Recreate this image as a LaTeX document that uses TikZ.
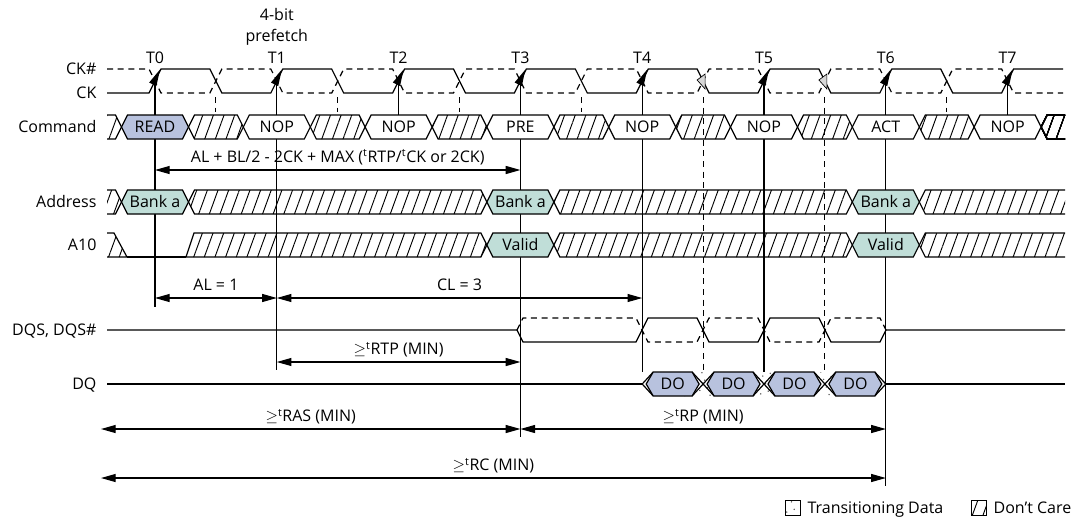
\documentclass[tikz,border=0pt]{standalone}
\usepackage{fontspec}
\setmainfont{Open Sans}
\usepackage{tikz}
\usetikzlibrary{arrows.meta, patterns.meta, calc}

\definecolor{readblue}{RGB}{184, 194, 222}
\definecolor{bankgreen}{RGB}{192, 222, 216}
\definecolor{edgegray}{RGB}{215, 215, 215}

\tikzstyle{siglabel} = [anchor=east, inner sep=0pt, font=\fontsize{12}{14}\selectfont, text height=8.6pt, text depth=0pt]
\tikzstyle{buslabel} = [inner sep=0pt, font=\fontsize{12}{14}\selectfont, text height=8.6pt, text depth=0pt]
\tikzstyle{dontcare} = [pattern={Lines[angle=70, distance=7.5pt, line width=0.7pt]}]
\tikzstyle{transdots} = [pattern={Dots[distance=6pt, radius=0.6pt, angle=20]}, pattern color=gray!70!black]
\tikzstyle{hidash} = [dash pattern=on 4.5pt off 3.5pt, line width=0.7pt]
\tikzstyle{dim} = [{Triangle[length=11pt, width=6pt]}-{Triangle[length=11pt, width=6pt]}, line width=0.8pt]

% one bus window: style, left x, right x, middle y
\newcommand{\busseg}[4]{\draw[#1] (#2,#4) -- (#2+6,#4-12) -- (#3-6,#4-12) -- (#3,#4) -- (#3-6,#4+12) -- (#2+6,#4+12) -- cycle;}

\begin{document}
\begin{tikzpicture}[x=0.75pt, y=-0.75pt, line width=0.9pt]
    \useasboundingbox (0,0) rectangle (1081,526);

    % Rising clock edges
    \foreach \k in {0,...,7}
        \coordinate (T\k) at ({155+121.8*\k}, 81);

    % Signal names
    \node[siglabel] (nckn) at (97, 69) {CK\#};
    \node[siglabel] (nck) at (97, 93) {CK};
    \node[siglabel] (ncmd) at (97, 127) {Command};
    \node[siglabel] (naddr) at (97, 202) {Address};
    \node[siglabel] (na10) at (97, 245) {A10};
    \node[siglabel] (ndqs) at (97, 330) {DQS, DQS\#};
    \node[siglabel] (ndq) at (97, 384) {DQ};

    % Edge names
    \foreach \k in {0,...,7}
        \node[buslabel] (tname\k) at (T\k |- 0,58) {T\k};
    \node[buslabel] (pfa) at (T1 |- 0,15) {4-bit};
    \node[buslabel] (pfb) at (T1 |- 0,36) {prefetch};

    % Reference lines
    \draw (T0) -- (T0 |- 0,307);
    \draw (T1) -- (T1 |- 0,370);
    \draw (T2) -- (T2 |- 0,115);
    \draw (T3) -- (T3 |- 0,437);
    \draw (T4) -- (T4 |- 0,372);
    \draw (T5) -- (T5 |- 0,372);
    \draw (T6) -- (T6 |- 0,486);
    \draw (T7) -- (T7 |- 0,115);
    \foreach \k in {0,1,2,3,6}
        \draw[hidash] ({215.9+121.8*\k}, 97) -- ({215.9+121.8*\k}, 112);
    \draw[hidash] (703.1, 97) -- (703.1, 372);
    \draw[hidash] (824.9, 97) -- (824.9, 372);

    % Clock
    \draw (107,93) \foreach \k in {0,...,6} {
        -- ({149+121.8*\k},93) -- ({161+121.8*\k},69) -- ({209.9+121.8*\k},69) -- ({221.9+121.8*\k},93)}
        -- (1001.6,93) -- (1013.6,69) -- (1063,69);
    \draw[dash pattern=on 4.5pt off 3.5pt] (107,69) \foreach \k in {0,...,6} {
        -- ({149+121.8*\k},69) -- ({161+121.8*\k},93) -- ({209.9+121.8*\k},93) -- ({221.9+121.8*\k},69)}
        -- (1001.6,69) -- (1013.6,93) -- (1063,93);
    \foreach \k in {0,...,7}
        \fill ($(T\k)+(5,-11.5)$) -- ($(T\k)+(-5.8,1.5)$) -- ($(T\k)+(1.4,5.1)$) -- cycle;
    \foreach \x in {703.1, 824.9}
        \filldraw[fill=edgegray, line width=0.5pt] (\x-6,80) -- (\x+2,74) -- (\x+2,89) -- cycle;

    % Command
    \draw[dontcare] (107,115) -- (115.5,115) -- (121.5,127) -- (115.5,139) -- (107,139);
    \foreach \k in {0,...,6}
        \busseg{dontcare}{188.5+121.8*\k}{243.3+121.8*\k}{127}
    \draw[dontcare] (1065,115) -- (1047.1,115) -- (1041.1,127) -- (1047.1,139) -- (1065,139);
    \foreach \k/\cmd/\col in {0/READ/readblue, 1/NOP/white, 2/NOP/white, 3/PRE/white,
                              4/NOP/white, 5/NOP/white, 6/ACT/white, 7/NOP/white} {
        \busseg{fill=\col}{121.5+121.8*\k}{188.5+121.8*\k}{127}
        \node[buslabel] (cmd\k) at (T\k |- 0,127) {\cmd};
    }

    % Address
    \draw[dontcare] (107,190) -- (115.5,190) -- (121.5,202) -- (115.5,214) -- (107,214);
    \busseg{dontcare}{188.5}{486.9}{202}
    \busseg{dontcare}{553.9}{852.3}{202}
    \draw[dontcare] (1065,190) -- (925.3,190) -- (919.3,202) -- (925.3,214) -- (1065,214);
    \foreach \k in {0,3,6} {
        \busseg{fill=bankgreen}{121.5+121.8*\k}{188.5+121.8*\k}{202}
        \node[buslabel] (addr\k) at (T\k |- 0,202) {Bank a};
    }

    % A10
    \draw[dontcare] (107,233) -- (114,233) -- (127,257) -- (107,257);
    \draw (127,257) -- (186,257);
    \draw[dontcare] (186,257) -- (194,233) -- (480.9,233) -- (486.9,245) -- (480.9,257) -- cycle;
    \busseg{dontcare}{553.9}{852.3}{245}
    \draw[dontcare] (1065,233) -- (925.3,233) -- (919.3,245) -- (925.3,257) -- (1065,257);
    \foreach \k in {3,6} {
        \busseg{fill=bankgreen}{121.5+121.8*\k}{188.5+121.8*\k}{245}
        \node[buslabel] (aten\k) at (T\k |- 0,245) {Valid};
    }

    % DQS, DQS#
    \draw (107,330) -- (517,330) -- (523,342) -- (636,342) -- (648,318) -- (697,318) -- (709,342)
        -- (758,342) -- (770,318) -- (819,318) -- (831,342) -- (880,342) -- (886,330) -- (1065,330);
    \draw[dash pattern=on 4.5pt off 3.5pt] (517,330) -- (523,318) -- (636,318) -- (648,342) -- (697,342)
        -- (709,318) -- (758,318) -- (770,342) -- (819,342) -- (831,318) -- (880,318) -- (886,330);

    % DQ
    \draw (107,384) -- (642.2,384);
    \draw (885.8,384) -- (1065,384);
    \path[transdots] (642.2,384) -- (653.2,372) -- (874.8,372) -- (885.8,384) -- (874.8,396) -- (653.2,396) -- cycle;
    \draw (653.2,372) -- (642.2,384) -- (653.2,396);
    \draw (874.8,372) -- (885.8,384) -- (874.8,396);
    \foreach \x in {703.1, 764, 824.9} {
        \draw (\x-11,372) -- (\x+11,396);
        \draw (\x-11,396) -- (\x+11,372);
    }
    \foreach \k in {0,...,3} {
        \draw[fill=readblue] (646.2+60.9*\k,384) -- (653.2+60.9*\k,372) -- (692.1+60.9*\k,372)
            -- (699.1+60.9*\k,384) -- (692.1+60.9*\k,396) -- (653.2+60.9*\k,396) -- cycle;
        \node[buslabel] (dout\k) at (672.7+60.9*\k,384) {DO};
    }

    % Timing parameters
    \draw[dim] (T0 |- 0,170) -- (T3 |- 0,170);
    \node[buslabel] (rdlat) at (337.7,157) {AL + BL/2 - 2CK + MAX (\textsuperscript{t}RTP/\textsuperscript{t}CK or 2CK)};
    \draw[dim] (T0 |- 0,298) -- node[buslabel, above=5pt] (allbl) {AL = 1} (T1 |- 0,298);
    \draw[dim] (T1 |- 0,298) -- node[buslabel, above=5pt] (cllbl) {CL = 3} (T4 |- 0,298);
    \draw[dim] (T1 |- 0,362) -- node[buslabel, above=5pt] (rtplbl) {$\geq$\textsuperscript{t}RTP (MIN)} (T3 |- 0,362);
    \coordinate (leftend) at (101,0);
    \draw[dim] (leftend |- 0,429) -- node[buslabel, above=5pt] (raslbl) {$\geq$\textsuperscript{t}RAS (MIN)} (T3 |- 0,429);
    \draw[dim] (T3 |- 0,429) -- node[buslabel, above=5pt] (rplbl) {$\geq$\textsuperscript{t}RP (MIN)} (T6 |- 0,429);
    \draw[dim] (leftend |- 0,478) -- node[buslabel, above=5pt] (rclbl) {$\geq$\textsuperscript{t}RC (MIN)} (T6 |- 0,478);

    % Legend
    \draw[transdots, line width=0.6pt] (785,500) rectangle (800,515);
    \node[buslabel, anchor=west] (legtrans) at (807,508) {Transitioning Data};
    \draw[dontcare, line width=0.6pt] (971,500) rectangle (986,515);
    \node[buslabel, anchor=west] (legdc) at (993,508) {Don’t Care};
\end{tikzpicture}
\end{document}
